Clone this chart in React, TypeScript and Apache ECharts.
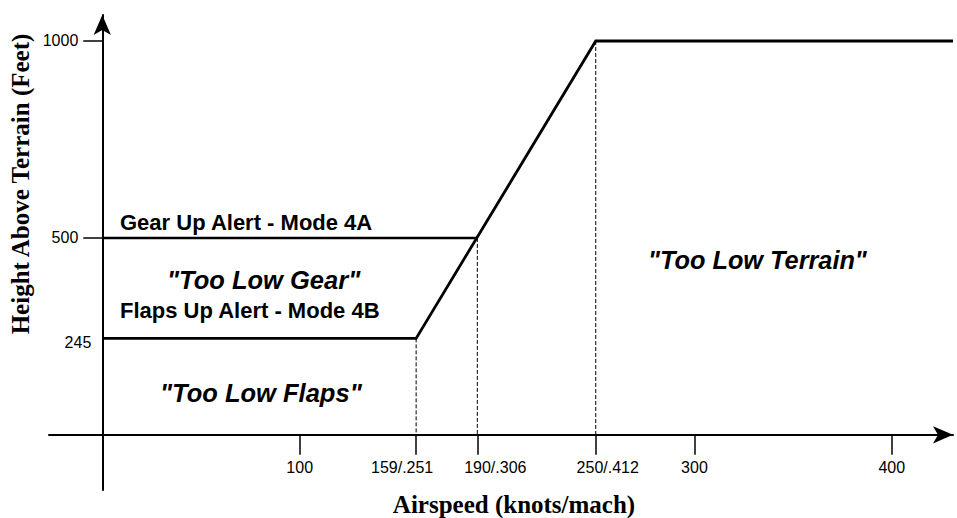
import React, { useEffect, useRef } from "react";
import * as echarts from "echarts";

// Boundary curve (Mode 4B flaps line -> ramp -> terrain line)
const boundaryX = [0, 159, 250, 431];
const boundaryY = [245, 245, 1000, 1000];
// Mode 4A gear-up line
const gearX = [0, 190];
const gearY = [500, 500];
// Dashed drop lines
const dropX = [159, 190, 250];
const dropY = [245, 500, 1000];

// Axis ticks and labels
const xTickValues = [100, 159, 190, 250, 300, 400];
const xTickLabels = ["100", "159/.251", "190/.306", "250/.412", "300", "400"];
const xLabelStyle = ["c", "lft", "r", "m", "c", "c"];
const yTickValues = [500, 1000];
const yLabelValues = [245, 500, 1000];
const yLabelTexts = ["245", "500", "1000"];
const yLabelStyle = ["low", "n", "n"];

const xAxisName = "Airspeed (knots/mach)";
const yAxisName = "Height Above Terrain (Feet)";
const annotations = [
  "Gear Up Alert - Mode 4A",
  "\"Too Low Gear\"",
  "Flaps Up Alert - Mode 4B",
  "\"Too Low Flaps\"",
  "\"Too Low Terrain\"",
];

export default function App() {
  const ref = useRef<HTMLDivElement>(null);
  useEffect(() => {
    if (!ref.current) return;
    const chart = echarts.init(ref.current, undefined, { renderer: "svg" });
    const sans = "Arial";
    const serif = "Liberation Serif";
    const pair = (xs: number[], ys: number[]) => xs.map((x, i) => [x, ys[i]]);

    const xMin = -27, xMax = 431, yMin = -140, yMax = 1066;
    const gLeft = 49, gRight = 4, gTop = 15, gBottom = 28;
    const gW = 957 - gLeft - gRight;
    const gH = 518 - gTop - gBottom;
    // shift axes so they cross at the origin (axes are drawn through x=0 / y=0)
    const yAxisOffset = -((0 - xMin) / (xMax - xMin)) * gW;
    const xAxisOffset = -((0 - yMin) / (yMax - yMin)) * gH;

    const nearest = (arr: number[], v: any) => {
      const n = Number(v);
      return arr.findIndex((t) => Math.abs(t - n) < 0.5);
    };

    const dropSeries = dropX.map((x, i) => ({
      type: "line",
      name: "drop" + i,
      data: [
        [x, dropY[i]],
        [x, 0],
      ],
      symbol: "none",
      silent: true,
      lineStyle: { color: "#000", width: 1, type: [4, 2] },
      z: 1,
    }));

    const annoPos = [
      [120, 222, false, 22],
      [167, 280, true, 25.5],
      [120, 310, false, 22],
      [160, 393, true, 25.5],
      [648, 260, true, 25.3],
    ];

    const lbl = (extra: object) => ({ fontSize: 16, fontFamily: sans, color: "#000", ...extra });

    chart.setOption({
      animation: false,
      backgroundColor: "#fff",
      grid: {
        left: gLeft,
        right: gRight,
        top: gTop,
        bottom: gBottom,
        containLabel: false,
        outerBoundsMode: "none",
      },
      xAxis: {
        type: "value",
        min: xMin,
        max: xMax,
        position: "bottom",
        offset: xAxisOffset,
        axisLine: {
          onZero: false,
          lineStyle: { color: "#000", width: 2 },
          symbol: ["none", "arrow"],
          symbolSize: [13, 20],
        },
        axisTick: {
          show: true,
          length: 20,
          customValues: xTickValues,
          lineStyle: { color: "#000", width: 1.5 },
        },
        axisLabel: {
          customValues: xTickValues,
          margin: 25,
          color: "#000",
          fontSize: 16,
          fontFamily: sans,
          hideOverlap: false,
          formatter: (v: any) => {
            const i = nearest(xTickValues, v);
            return i < 0 ? "" : `{${xLabelStyle[i]}|${xTickLabels[i]}}`;
          },
          rich: {
            c: lbl({}),
            lft: lbl({ padding: [0, 28, 0, 0] }),
            r: lbl({ padding: [0, 0, 0, 36] }),
            m: lbl({ padding: [0, 0, 0, 24] }),
          },
        },
        splitLine: { show: false },
      },
      yAxis: {
        type: "value",
        min: yMin,
        max: yMax,
        position: "left",
        offset: yAxisOffset,
        axisLine: {
          onZero: false,
          lineStyle: { color: "#000", width: 2 },
          symbol: ["none", "arrow"],
          symbolSize: [13, 20],
        },
        axisTick: {
          show: true,
          length: 19,
          customValues: yTickValues,
          lineStyle: { color: "#000", width: 1.5 },
        },
        axisLabel: {
          customValues: yLabelValues,
          margin: 11,
          color: "#000",
          fontSize: 16,
          fontFamily: sans,
          formatter: (v: any) => {
            const i = nearest(yLabelValues, v);
            return i < 0 ? "" : `{${yLabelStyle[i]}|${yLabelTexts[i]}}`;
          },
          rich: {
            n: lbl({ padding: [0, 13, 0, 0] }),
            low: lbl({ padding: [8, 0, 0, 0] }),
          },
        },
        splitLine: { show: false },
      },
      series: [
        {
          type: "line",
          name: "Terrain / Mode 4B boundary",
          data: pair(boundaryX, boundaryY),
          symbol: "none",
          clip: false,
          lineStyle: { color: "#000", width: 2.8, join: "miter" },
          z: 3,
        },
        {
          type: "line",
          name: "Mode 4A gear up",
          data: pair(gearX, gearY),
          symbol: "none",
          lineStyle: { color: "#000", width: 2.5 },
          z: 3,
        },
        ...dropSeries,
      ],
      graphic: [
        {
          type: "text",
          x: 20,
          y: 184,
          rotation: Math.PI / 2,
          style: {
            text: yAxisName,
            fontFamily: serif,
            fontWeight: "bold",
            fontSize: 25,
            fill: "#000",
            align: "center",
            verticalAlign: "middle",
          },
        },
        {
          type: "text",
          x: 514,
          y: 504,
          style: {
            text: xAxisName,
            fontFamily: serif,
            fontWeight: "bold",
            fontSize: 25,
            fill: "#000",
            align: "center",
            verticalAlign: "middle",
          },
        },
        ...annotations.map((t, i) => ({
          type: "text",
          x: annoPos[i][0] as number,
          y: annoPos[i][1] as number,
          style: {
            text: t,
            fontFamily: sans,
            fontWeight: "bold",
            fontStyle: annoPos[i][2] ? "italic" : "normal",
            fontSize: annoPos[i][3] as number,
            fill: "#000",
            align: "left",
            verticalAlign: "middle",
          },
        })),
      ],
    });
    return () => chart.dispose();
  }, []);
  return (
    <div
      ref={ref}
      style={{ position: "absolute", left: 0, top: 0, width: 957, height: 518 }}
    />
  );
}
